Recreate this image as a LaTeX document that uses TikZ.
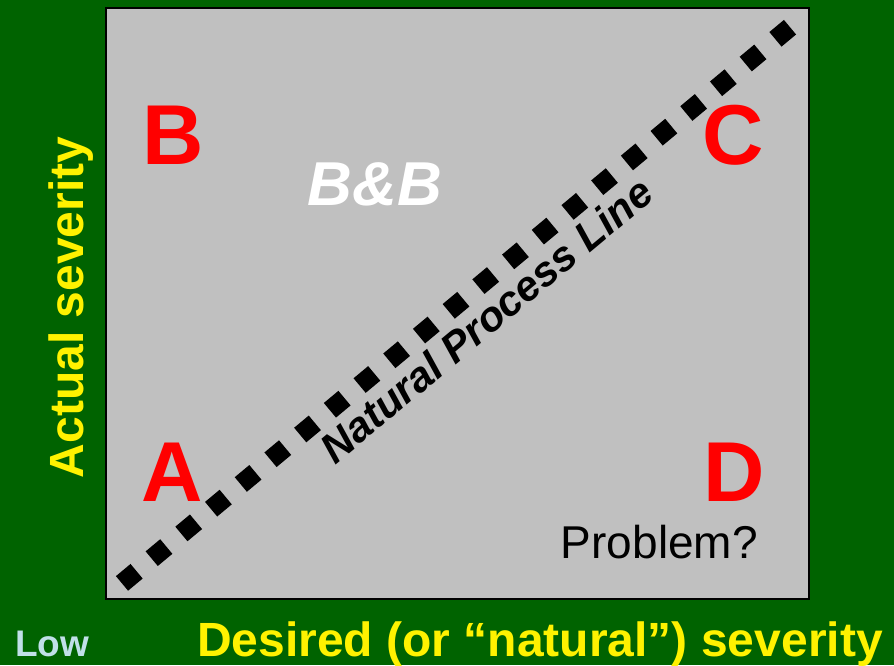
\documentclass[tikz,border=0pt]{standalone}
\usepackage{fontspec}
\setmainfont{Liberation Sans}
\definecolor{bggreen}{RGB}{0,99,0}
\definecolor{panelgray}{RGB}{192,192,192}
\definecolor{lowblue}{RGB}{192,224,232}
\tikzset{
  quad/.style={text=red, font=\fontsize{85}{85}\selectfont\bfseries, inner sep=0pt, anchor=base},
  axislabel/.style={text=yellow, font=\fontsize{48}{48}\selectfont\bfseries, inner sep=0pt},
  npline/.style={line width=19pt, dash pattern=on 19pt off 19.65pt, line cap=butt, draw=black}
}
\begin{document}
\begin{tikzpicture}[x=1pt,y=-1pt]
  \fill[bggreen] (0,0) rectangle (894,665);
  \useasboundingbox (0,0) rectangle (894,665);
  \draw[fill=panelgray, line width=2.5pt] (106,8) rectangle (809,599);
  \coordinate (ls) at (122.0,583.4);
  \coordinate (le) at (790.0,27.2);
  \draw[npline] (ls) -- (le);
  \node[quad] (qb) at (173,164) {B};
  \node[quad] (qc) at (733,164) {C};
  \node[quad] (qa) at (172,501) {A};
  \node[quad] (qd) at (734,501) {D};
  \node[text=white, font=\fontsize{62}{62}\selectfont\bfseries\itshape, inner sep=0pt, anchor=base] (bb) at (375,205) {B\&B};
  \node[font=\fontsize{42}{42}\selectfont\bfseries\itshape, inner sep=0pt, rotate=39.78] (npl) at (486,320) {Natural Process Line};
  \node[font=\fontsize{46}{46}\selectfont, inner sep=0pt, anchor=base east] (prob) at (758,558) {Problem?};
  \node[axislabel, rotate=90, anchor=base] (ylab) at (83,307.5) {Actual severity};
  \node[axislabel, anchor=base west] (xlab) at (197,656) {Desired (or “natural”) severity};
  \node[text=lowblue, font=\fontsize{37}{37}\selectfont\bfseries, inner sep=0pt, anchor=base west] (low) at (15,656) {Low};
\end{tikzpicture}
\end{document}
